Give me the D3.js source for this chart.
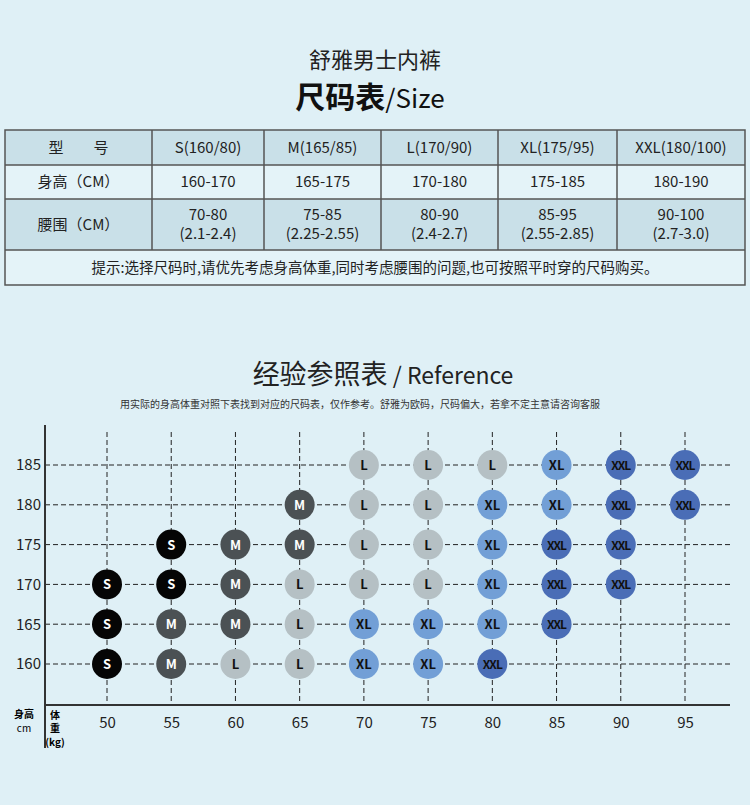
<!DOCTYPE html><html><head><meta charset="utf-8"><script src="https://cdn.jsdelivr.net/npm/d3@7"></script>
<style>body{margin:0;background:#dff0f6}</style></head><body><svg id="c" width="750" height="805"></svg>
<script>
const tableHeader=["型　　号","S(160/80)","M(165/85)","L(170/90)","XL(175/95)","XXL(180/100)"];
const heightRow=["身高（CM）","160-170","165-175","170-180","175-185","180-190"];
const waistRow=["腰围（CM）","70-80\n(2.1-2.4)","75-85\n(2.25-2.55)","80-90\n(2.4-2.7)","85-95\n(2.55-2.85)","90-100\n(2.7-3.0)"];
const note="提示:选择尺码时,请优先考虑身高体重,同时考虑腰围的问题,也可按照平时穿的尺码购买。";
const weights=[50,55,60,65,70,75,80,85,90,95];
const heights=[160,165,170,175,180,185];
// sizes per weight, from height 160 upward
const sizeGrid=[
["S","S","S",null,null,null],
["M","M","S","S",null,null],
["L","M","M","M",null,null],
["L","L","L","M","M",null],
["XL","XL","L","L","L","L"],
["XL","XL","L","L","L","L"],
["XXL","XL","XL","XL","XL","L"],
[null,"XXL","XXL","XXL","XL","XL"],
[null,null,"XXL","XXL","XXL","XXL"],
[null,null,null,null,"XXL","XXL"]];
const sizeColor={S:"#050505",M:"#4b5154",L:"#b5c0c4",XL:"#729fd6",XXL:"#4a6db6"};
const sizeText={S:"#fff",M:"#fff",L:"#111",XL:"#111",XXL:"#111"};
const svg=d3.select("#c"),F="'Noto Sans CJK SC','Noto Sans',sans-serif";
svg.append("text").attr("x",375).attr("y",68).attr("text-anchor","middle").attr("font-family",F).attr("font-size",22).attr("fill","#222").text("舒雅男士内裤");
const t2=svg.append("text").attr("x",370).attr("y",108).attr("text-anchor","middle").attr("font-family",F).attr("fill","#111");
t2.append("tspan").attr("font-size",30).attr("font-weight","bold").text("尺码表");
t2.append("tspan").attr("font-size",26).text("/Size");
const colX=[5,152,264,381,498,617,745], rowY=[130,165,199,250,285];
const g=svg.append("g");
const fills=["#c9e0e8","#e4f3f8","#c9e0e8","#e4f3f8"];
for(let r=0;r<4;r++) g.append("rect").attr("x",5).attr("y",rowY[r]).attr("width",740).attr("height",rowY[r+1]-rowY[r]).attr("fill",fills[r]);
g.append("rect").attr("x",5).attr("y",130).attr("width",740).attr("height",155).attr("fill","none").attr("stroke","#555").attr("stroke-width",1.5);
rowY.slice(1,4).forEach(y=>g.append("line").attr("x1",5).attr("x2",745).attr("y1",y).attr("y2",y).attr("stroke","#555").attr("stroke-width",1.5));
colX.slice(1,6).forEach(x=>g.append("line").attr("x1",x).attr("x2",x).attr("y1",130).attr("y2",250).attr("stroke","#555").attr("stroke-width",1.5));
[tableHeader,heightRow,waistRow].forEach((row,r)=>row.forEach((txt,c)=>{
 const cx=(colX[c]+colX[c+1])/2, lines=txt.split("\n"), cy=(rowY[r]+rowY[r+1])/2;
 lines.forEach((l,i)=>g.append("text").attr("x",cx).attr("y",cy+(i-(lines.length-1)/2)*19+5).attr("text-anchor","middle").attr("font-family",F).attr("font-size",15).attr("fill","#222").text(l));
}));
g.append("text").attr("x",375).attr("y",273).attr("text-anchor","middle").attr("font-family",F).attr("font-size",14.5).attr("fill","#222").text(note);
const t3=svg.append("text").attr("x",383).attr("y",384).attr("text-anchor","middle").attr("font-family",F).attr("fill","#222");
t3.append("tspan").attr("font-size",27).text("经验参照表");
t3.append("tspan").attr("font-size",23).text(" / Reference");
svg.append("text").attr("x",360).attr("y",408).attr("text-anchor","middle").attr("font-family",F).attr("font-size",10).attr("fill","#333").text("用实际的身高体重对照下表找到对应的尺码表，仅作参考。舒雅为欧码，尺码偏大，若拿不定主意请咨询客服");
const x=d3.scaleLinear().domain([50,95]).range([107,685]);
const y=d3.scaleLinear().domain([160,185]).range([664,465]);
const axY=705, axX=45;
const grid=svg.append("g").attr("stroke","#222").attr("stroke-dasharray","5,3").attr("stroke-width",1);
weights.forEach(w=>grid.append("line").attr("x1",x(w)).attr("x2",x(w)).attr("y1",432).attr("y2",axY));
heights.forEach(h=>grid.append("line").attr("x1",axX).attr("x2",730).attr("y1",y(h)).attr("y2",y(h)));
svg.append("line").attr("x1",axX).attr("x2",axX).attr("y1",425).attr("y2",748).attr("stroke","#333").attr("stroke-width",2);
svg.append("line").attr("x1",axX).attr("x2",730).attr("y1",axY).attr("y2",axY).attr("stroke","#333").attr("stroke-width",2);
const xa=svg.append("g").attr("transform",`translate(0,${axY})`).call(d3.axisBottom(x).tickValues(weights).tickSize(0).tickPadding(12));
const ya=svg.append("g").attr("transform",`translate(${axX},0)`).call(d3.axisLeft(y).tickValues(heights).tickSize(0).tickPadding(4));
[xa,ya].forEach(a=>{a.select(".domain").remove();a.selectAll("text").attr("font-family",F).attr("font-size",15).attr("fill","#222");});
svg.append("text").attr("x",24).attr("y",718).attr("text-anchor","middle").attr("font-family",F).attr("font-size",10).attr("font-weight","bold").text("身高");
svg.append("text").attr("x",24).attr("y",732).attr("text-anchor","middle").attr("font-family",F).attr("font-size",10).text("cm");
[["体",719],["重",732],["(kg)",746]].forEach(([s,yy])=>svg.append("text").attr("x",55).attr("y",yy).attr("text-anchor","middle").attr("font-family",F).attr("font-size",10).attr("font-weight","bold").text(s));
const pts=[];sizeGrid.forEach((col,i)=>col.forEach((s,j)=>{if(s)pts.push({w:weights[i],h:heights[j],s});}));
const pg=svg.selectAll("g.p").data(pts).join("g").attr("transform",d=>`translate(${x(d.w)},${y(d.h)})`);
pg.append("circle").attr("r",15).attr("fill",d=>sizeColor[d.s]);
pg.append("text").attr("y",5).attr("text-anchor","middle").attr("font-family",F).attr("font-weight","bold").attr("font-size",d=>d.s=="XXL"?12:13).attr("letter-spacing",d=>d.s=="XXL"?-1:0).attr("fill",d=>sizeText[d.s]).text(d=>d.s);
</script></body></html>
